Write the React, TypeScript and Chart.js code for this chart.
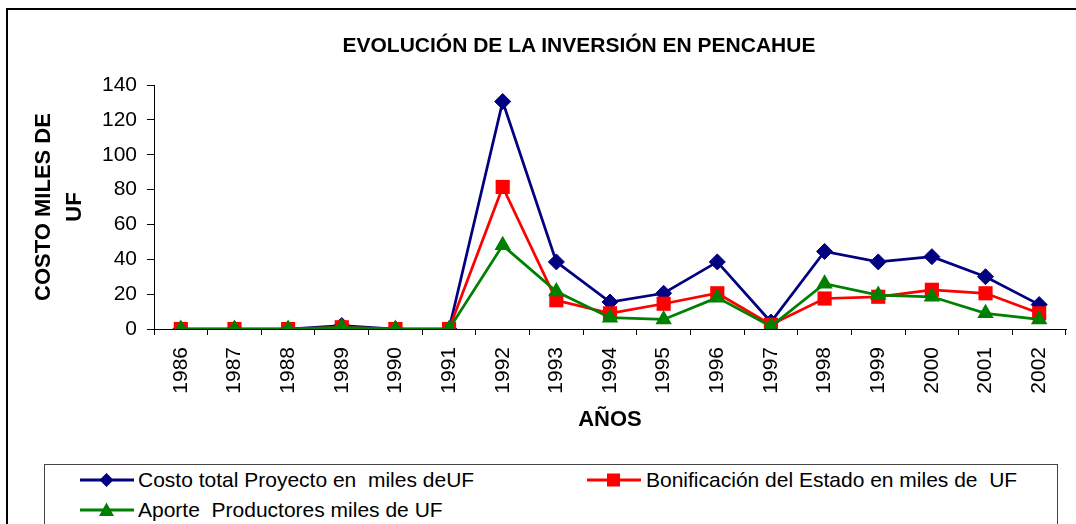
import React, { useEffect, useRef } from "react";
import { Chart, registerables } from "chart.js";

Chart.register(...registerables);

const years = ["1986", "1987", "1988", "1989", "1990", "1991", "1992", "1993", "1994", "1995", "1996", "1997", "1998", "1999", "2000", "2001", "2002"];
const costoTotal = [0, 0, 0, 2, 0, 0, 130.5, 38.5, 15.5, 20.5, 38.5, 4, 44.5, 38.5, 41.5, 30, 14];
const bonificacion = [0, 0, 0, 1, 0, 0, 81.5, 16.5, 9, 14.5, 20.5, 2.5, 17.5, 18.5, 22.5, 20.5, 9];
const aporte = [0, 0, 0, 1, 0, 0, 48, 21.5, 6.5, 5.5, 18, 1.5, 26, 19.5, 18.5, 9, 5.5];
const seriesNames = [
  "Costo total Proyecto en  miles deUF",
  "Bonificación del Estado en miles de  UF",
  "Aporte  Productores miles de UF",
];
const yMin = 0;
const yMax = 140;
const yStep = 20;
const chartTitle = "EVOLUCIÓN DE LA INVERSIÓN EN PENCAHUE";
const xTitle = "AÑOS";
const yTitle = ["COSTO MILES DE", "UF"];

const NAVY = "#000080";
const RED = "#FF0000";
const GREEN = "#008000";
const FONT = "'Liberation Sans', Arial, sans-serif";

function LegendSymbol({ color, shape }: { color: string; shape: string }) {
  let marker: any = null;
  if (shape === "diamond") marker = <polygon points="26.5,1 33.5,8 26.5,15 19.5,8" fill={color} />;
  if (shape === "square") marker = <rect x={20} y={1.5} width={13} height={13} fill={color} />;
  if (shape === "triangle") marker = <polygon points="26.5,0.5 34,14 19,14" fill={color} />;
  return (
    <svg width={54} height={16} style={{ display: "block" }}>
      <line x1={0} y1={8} x2={54} y2={8} stroke={color} strokeWidth={3} />
      {marker}
    </svg>
  );
}

export default function App() {
  const canvasRef = useRef<HTMLCanvasElement | null>(null);

  useEffect(() => {
    const canvas = canvasRef.current;
    if (!canvas) return;
    const chart = new Chart(canvas, {
      type: "line",
      data: {
        labels: years,
        datasets: [
          {
            label: seriesNames[0],
            data: costoTotal,
            borderColor: NAVY,
            backgroundColor: NAVY,
            pointBackgroundColor: NAVY,
            pointBorderColor: NAVY,
            pointStyle: "rectRot",
            pointRadius: 8,
            pointBorderWidth: 1,
            borderWidth: 2.75,
            tension: 0,
            order: 2,
          },
          {
            label: seriesNames[1],
            data: bonificacion,
            borderColor: RED,
            backgroundColor: RED,
            pointBackgroundColor: RED,
            pointBorderColor: RED,
            pointStyle: "rect",
            pointRadius: 10,
            pointBorderWidth: 0,
            borderWidth: 2.75,
            tension: 0,
            order: 1,
          },
          {
            label: seriesNames[2],
            data: aporte,
            borderColor: GREEN,
            backgroundColor: GREEN,
            pointBackgroundColor: GREEN,
            pointBorderColor: GREEN,
            pointStyle: "triangle",
            pointRadius: 9.5,
            pointBorderWidth: 0,
            borderWidth: 2.75,
            tension: 0,
            order: 0,
          },
        ],
      },
      options: {
        responsive: false,
        animation: false,
        devicePixelRatio: 1,
        layout: { padding: { left: 0, top: 85, right: 5, bottom: 85 } },
        plugins: {
          legend: { display: false },
          tooltip: { enabled: false },
          title: { display: false },
        },
        scales: {
          x: {
            offset: true,
            grid: { offset: true, drawOnChartArea: false, drawTicks: true, tickLength: 6, color: "#000", lineWidth: 1 },
            border: { display: true, color: "#000", width: 1 },
            ticks: {
              minRotation: 90,
              maxRotation: 90,
              autoSkip: false,
              padding: 12,
              color: "#000",
              font: { family: FONT, size: 21 },
            },
            title: {
              display: true,
              text: xTitle,
              color: "#000",
              font: { family: FONT, size: 22, weight: "bold" },
              padding: { top: 0, bottom: 6 },
            },
            afterFit: (s: any) => {
              s.height = 110;
              s.paddingLeft = 0;
              s.paddingRight = 0;
            },
          },
          y: {
            min: yMin,
            max: yMax,
            ticks: {
              stepSize: yStep,
              padding: 10,
              color: "#000",
              font: { family: FONT, size: 21 },
            },
            grid: { drawOnChartArea: false, drawTicks: true, tickLength: 7, color: "#000", lineWidth: 1 },
            border: { display: true, color: "#000", width: 1 },
            title: {
              display: true,
              text: yTitle,
              color: "#000",
              font: { family: FONT, size: 22, weight: "bold", lineHeight: 1.4 },
              padding: { top: 29, bottom: 0 },
            },
            afterFit: (s: any) => {
              s.width = 154;
              s.paddingTop = 0;
              s.paddingBottom = 0;
            },
          },
        },
      } as any,
    });
    return () => chart.destroy();
  }, []);

  const textStyle: React.CSSProperties = {
    position: "absolute",
    fontFamily: FONT,
    fontSize: 21,
    lineHeight: "24px",
    color: "#000",
    whiteSpace: "pre",
  };

  return (
    <div style={{ position: "absolute", left: 0, top: 0, width: 1076, height: 524, overflow: "hidden", background: "#fff" }}>
      <div
        style={{
          position: "absolute",
          left: 6,
          top: 8,
          width: 1200,
          height: 600,
          borderLeft: "2px solid #000",
          borderTop: "2px solid #000",
        }}
      />
      <canvas
        ref={canvasRef}
        width={1076}
        height={524}
        style={{ position: "absolute", left: 0, top: 0, width: 1076, height: 524, display: "block" }}
      />
      <div
        style={{
          position: "absolute",
          left: 279,
          width: 600,
          top: 33,
          textAlign: "center",
          fontFamily: FONT,
          fontWeight: "bold",
          fontSize: 21,
          lineHeight: "24px",
          color: "#000",
          whiteSpace: "pre",
        }}
      >
        {chartTitle}
      </div>
      <div
        style={{
          position: "absolute",
          left: 44,
          top: 464,
          width: 1012,
          height: 100,
          border: "1px solid #444",
          background: "#fff",
        }}
      />
      <div style={{ position: "absolute", left: 80, top: 472 }}>
        <LegendSymbol color={NAVY} shape="diamond" />
      </div>
      <div style={{ ...textStyle, left: 138, top: 468 }}>{seriesNames[0]}</div>
      <div style={{ position: "absolute", left: 587, top: 472 }}>
        <LegendSymbol color={RED} shape="square" />
      </div>
      <div style={{ ...textStyle, left: 646, top: 468 }}>{seriesNames[1]}</div>
      <div style={{ position: "absolute", left: 80, top: 502 }}>
        <LegendSymbol color={GREEN} shape="triangle" />
      </div>
      <div style={{ ...textStyle, left: 138, top: 498 }}>{seriesNames[2]}</div>
    </div>
  );
}
